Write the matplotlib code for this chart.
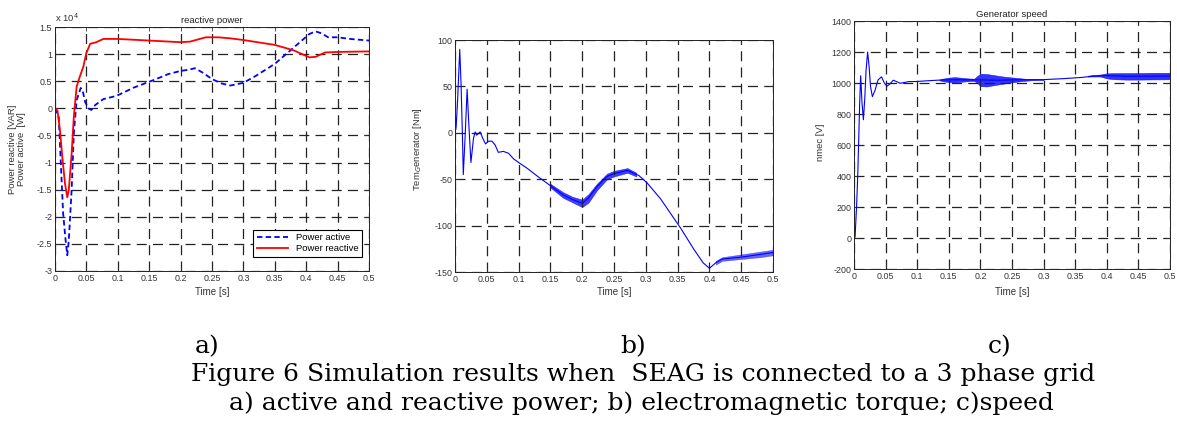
import matplotlib
matplotlib.use('Agg')
import matplotlib.pyplot as plt

plt.rcParams['font.family'] = ['Liberation Sans', 'DejaVu Sans']

# ---- a) active and reactive power (x 10^4)
t_react = [0, 0.004, 0.008, 0.0117, 0.016, 0.0196, 0.022, 0.0265, 0.03, 0.0345, 0.04, 0.045,
           0.05, 0.056, 0.066, 0.077, 0.1, 0.15, 0.2, 0.215, 0.24, 0.26, 0.28, 0.3, 0.35, 0.38,
           0.405, 0.415, 0.43, 0.45, 0.5]
p_react = [0, -0.04, -0.41, -0.9, -1.39, -1.64, -1.51, -0.84, -0.16, 0.4, 0.6, 0.76,
           1.02, 1.19, 1.22, 1.28, 1.28, 1.25, 1.22, 1.23, 1.31, 1.31, 1.29, 1.26, 1.17, 1.07,
           0.94, 0.95, 1.03, 1.04, 1.05]

t_act = [0, 0.006, 0.0096, 0.013, 0.017, 0.0196, 0.022, 0.0265, 0.03, 0.0345, 0.041, 0.044,
         0.048, 0.053, 0.058, 0.064, 0.077, 0.098, 0.125, 0.159, 0.18, 0.2, 0.212, 0.223, 0.235,
         0.25, 0.265, 0.279, 0.3, 0.32, 0.35, 0.37, 0.39, 0.405, 0.415, 0.425, 0.435, 0.45,
         0.47, 0.5]
p_act = [0, -0.16, -1.08, -1.94, -2.44, -2.71, -2.44, -1.51, -0.47, 0.15, 0.376, 0.33,
         0.12, 0.0, -0.03, 0.06, 0.17, 0.23, 0.38, 0.53, 0.63, 0.69, 0.71, 0.74, 0.66,
         0.54, 0.46, 0.42, 0.47, 0.6, 0.82, 1.02, 1.22, 1.37, 1.42, 1.38, 1.31, 1.31,
         1.28, 1.25]

# ---- b) electromagnetic torque
t_tem = [0, 0.0016, 0.004, 0.0074, 0.0095, 0.0116, 0.013, 0.016, 0.019, 0.022, 0.025, 0.029,
         0.0316, 0.034, 0.0395, 0.0437, 0.048, 0.0526, 0.058, 0.063, 0.068, 0.076, 0.084,
         0.092, 0.1, 0.113, 0.13, 0.15, 0.17, 0.185, 0.2, 0.21, 0.223, 0.239, 0.25, 0.271,
         0.289, 0.302, 0.323, 0.339, 0.355, 0.375, 0.39, 0.4, 0.41, 0.42, 0.45, 0.48, 0.5]
tem = [0, 5, 34, 90, 52, -2.5, -45, -2, 47, 5, -32, -6,
       1, -2.5, 1, -6, -12, -9, -9, -13, -21, -20, -22,
       -28, -32, -38, -47, -57, -67, -72, -76, -70, -58, -47, -44, -40.5,
       -46, -54, -71, -87, -103, -125, -140, -146, -140, -136, -134, -131, -129]
# ripple envelopes
t_tem_rip = [0.15, 0.17, 0.185, 0.2, 0.21, 0.223, 0.239, 0.25, 0.271, 0.285]
tem_rip_hi = [-55, -64, -69, -72, -66, -55, -44, -41, -38, -43]
tem_rip_lo = [-59, -70, -75, -80, -75, -62, -50, -47, -43, -47]
t_tem_rip2 = [0.41, 0.42, 0.45, 0.48, 0.5]
tem_rip2_hi = [-138, -134, -131, -128, -126]
tem_rip2_lo = [-142, -138, -136, -134, -132]

# ---- c) generator speed
t_spd = [0, 0.0016, 0.004, 0.006, 0.0075, 0.009, 0.0105, 0.0125, 0.0148, 0.017, 0.019,
         0.0215, 0.024, 0.026, 0.029, 0.033, 0.038, 0.0435, 0.048, 0.052, 0.057, 0.062,
         0.068, 0.073, 0.086, 0.1, 0.118, 0.14, 0.17, 0.2, 0.23, 0.26, 0.3, 0.33, 0.36,
         0.38, 0.4, 0.43, 0.46, 0.5]
spd = [0, 5, 200, 420, 650, 880, 1047, 880, 763, 900, 1080,
       1200, 1100, 980, 912, 950, 1020, 1040, 1000, 979, 995, 1018,
       1008, 998, 1009, 1010, 1015, 1020, 1021, 1020, 1018, 1021, 1022, 1028, 1036,
       1045, 1048, 1044, 1044, 1045]
t_spd_rip = [0.135, 0.14, 0.15, 0.16, 0.17, 0.18, 0.19, 0.195, 0.2, 0.21, 0.22, 0.23, 0.24,
             0.25, 0.26, 0.27, 0.28, 0.3]
spd_rip_hi = [1022, 1028, 1035, 1038, 1034, 1030, 1028, 1045, 1060, 1058, 1052, 1045, 1040,
              1036, 1032, 1028, 1025, 1024]
spd_rip_lo = [1018, 1012, 1006, 1004, 1008, 1012, 1014, 1000, 980, 978, 985, 992, 998,
              1004, 1010, 1014, 1018, 1020]
t_spd_rip2 = [0.37, 0.39, 0.4, 0.41, 0.43, 0.45, 0.47, 0.5]
spd_rip2_hi = [1048, 1055, 1062, 1064, 1064, 1064, 1066, 1066]
spd_rip2_lo = [1042, 1042, 1030, 1025, 1022, 1022, 1023, 1024]

x_ticks = [0, 0.05, 0.1, 0.15, 0.2, 0.25, 0.3, 0.35, 0.4, 0.45, 0.5]


def style(ax, yticks, xlab_y):
    ax.set_xlim(0, 0.5)
    ax.set_ylim(yticks[0], yticks[-1])
    ax.set_xticks(x_ticks)
    ax.set_xticklabels(['%g' % v for v in x_ticks])
    ax.set_yticks(yticks)
    ax.set_yticklabels(['%g' % v for v in yticks])
    ax.tick_params(direction='in', top=True, right=True, length=3, width=0.6,
                   labelsize=6.4, pad=2, colors='#333333')
    ax.grid(True, color='#222222', linestyle=(0, (8, 5)), linewidth=0.9)
    for s in ax.spines.values():
        s.set_linewidth(0.7)
        s.set_color('#222222')
    ax.set_xlabel('Time [s]', fontsize=7, color='#333333')
    ax.xaxis.set_label_coords(0.5, xlab_y)


fig = plt.figure(figsize=(11.77, 4.30), dpi=100)

# a)
ax1 = fig.add_axes([0.0467, 0.3698, 0.2668, 0.5674])
ax1.plot(t_act, p_act, color='#0000ff', linestyle=(0, (3, 1.8)), linewidth=1.3, label='Power active')
ax1.plot(t_react, p_react, color='#ff0000', linewidth=1.3, label='Power reactive')
style(ax1, [-3, -2.5, -2, -1.5, -1, -0.5, 0, 0.5, 1, 1.5], -0.066)
ax1.set_title('reactive power', fontsize=6.8, pad=3, color='#222222')
ax1.set_ylabel('Power reactive [VAR]\nPower active  [W]', fontsize=6.8,
               color='#333333', linespacing=1.05)
ax1.yaxis.set_label_coords(-0.092, 0.5)
ax1.text(0.0, 1.012, r'x 10$^4$', transform=ax1.transAxes, fontsize=6.8, color='#333333',
         va='bottom', ha='left')
leg = ax1.legend(loc='lower right', bbox_to_anchor=(0.978, 0.057), fontsize=6.8, fancybox=False,
                 edgecolor='black', framealpha=1, borderaxespad=0, handlelength=3.3,
                 borderpad=0.4, labelspacing=0.2)
leg.get_frame().set_linewidth(0.8)

# b)
ax2 = fig.add_axes([0.3866, 0.3674, 0.2702, 0.5395])
ax2.fill_between(t_tem_rip, tem_rip_lo, tem_rip_hi, color='#0000ff', alpha=0.75, linewidth=0.4)
ax2.fill_between(t_tem_rip2, tem_rip2_lo, tem_rip2_hi, color='#0000ff', alpha=0.6, linewidth=0.3)
ax2.plot(t_tem, tem, color='#0000ff', linewidth=0.8)
style(ax2, [-150, -100, -50, 0, 50, 100], -0.065)
ax2.set_ylabel(r'Tem$_G$enerator [Nm]', fontsize=6.8, color='#333333')
ax2.yaxis.set_label_coords(-0.097, 0.53)

# c)
ax3 = fig.add_axes([0.7256, 0.3744, 0.2685, 0.5767])
ax3.fill_between(t_spd_rip, spd_rip_lo, spd_rip_hi, color='#0000ff', alpha=0.8, linewidth=0.4)
ax3.fill_between(t_spd_rip2, spd_rip2_lo, spd_rip2_hi, color='#0000ff', alpha=0.8, linewidth=0.4)
ax3.plot(t_spd, spd, color='#0000ff', linewidth=0.8)
style(ax3, [-200, 0, 200, 400, 600, 800, 1000, 1200, 1400], -0.073)
ax3.set_title('Generator speed', fontsize=6.8, pad=3, color='#222222')
ax3.set_ylabel('nmec [V]', fontsize=6.8, color='#333333')
ax3.yaxis.set_label_coords(-0.092, 0.51)

# caption
cap = dict(fontsize=18, family=['DejaVu Serif'], ha='center', va='center', color='black')
fig.text(207 / 1177, 1 - 347 / 430, 'a)', **cap)
fig.text(633 / 1177, 1 - 347 / 430, 'b)', **cap)
fig.text(1000 / 1177, 1 - 347 / 430, 'c)', **cap)
fig.text(643 / 1177, 1 - 375 / 430, 'Figure 6 Simulation results when  SEAG is connected to a 3 phase grid', **cap)
fig.text(641 / 1177, 1 - 403 / 430, 'a) active and reactive power; b) electromagnetic torque; c)speed', **cap)

fig.savefig('out.png', dpi=100)
